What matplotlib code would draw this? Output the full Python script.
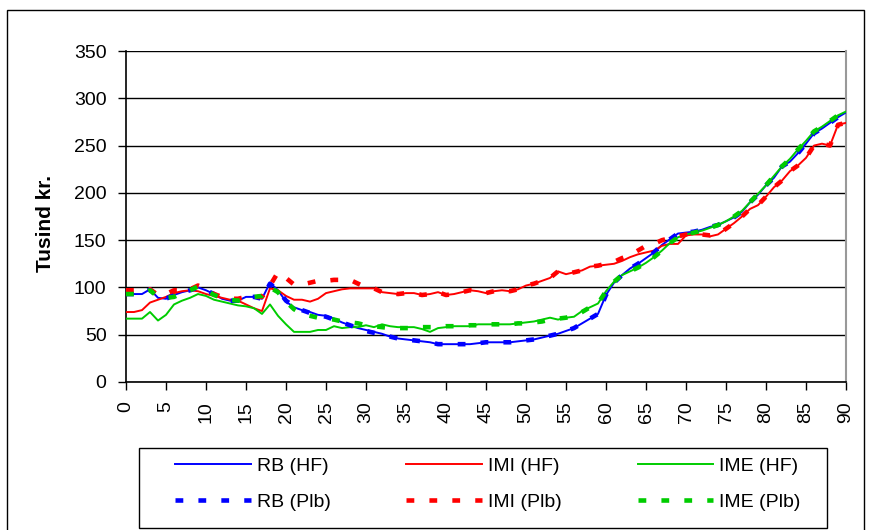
import numpy as np
import matplotlib
matplotlib.use("Agg")
import matplotlib.pyplot as plt
from matplotlib.patches import Rectangle

plt.rcParams['font.family'] = ['Liberation Sans', 'DejaVu Sans']

# -- data (age 0..90, tusind kr.)
ages = list(range(0, 91))

rb_hf = [93, 93, 93, 98, 89, 88, 92, 95, 97, 100,
         97, 93, 88, 86, 86, 90, 90, 88, 105, 97,
         85, 79, 76, 74, 71, 70, 67, 63, 60, 57,
         55, 53, 51, 48, 46, 45, 44, 43, 42, 40,
         40, 40, 40, 40, 41, 42, 42, 42, 42, 43,
         44, 45, 47, 49, 51, 54, 57, 62, 67, 72,
         92, 105, 113, 120, 125, 131, 137, 145, 151, 157,
         158, 159, 161, 164, 166, 170, 174, 180, 190, 198,
         208, 216, 228, 233, 242, 252, 263, 268, 274, 280,
         285]

imi_hf = [74, 74, 76, 84, 87, 90, 94, 96, 97, 96,
          93, 91, 89, 87, 86, 82, 78, 75, 99, 97,
          91, 87, 87, 85, 88, 94, 96, 98, 99, 99,
          99, 99, 95, 94, 93, 94, 94, 92, 93, 95,
          92, 93, 95, 97, 96, 94, 96, 97, 96, 98,
          102, 104, 107, 110, 117, 114, 116, 118, 122, 123,
          124, 125, 128, 132, 135, 137, 139, 144, 146, 146,
          155, 156, 156, 154, 156, 162, 168, 175, 183, 187,
          196, 206, 213, 223, 229, 237, 250, 252, 250, 272,
          274]

ime_hf = [67, 67, 67, 74, 65, 71, 82, 86, 89, 93,
          91, 87, 85, 83, 81, 80, 78, 72, 82, 70,
          61, 53, 53, 53, 55, 55, 59, 57, 58, 58,
          60, 58, 61, 59, 58, 58, 58, 56, 53, 57,
          58, 59, 59, 59, 61, 61, 61, 61, 61, 62,
          63, 64, 66, 68, 66, 68, 69, 75, 79, 83,
          96, 106, 113, 117, 121, 126, 132, 139, 147, 153,
          156, 158, 160, 163, 166, 170, 175, 181, 190, 199,
          208, 218, 228, 236, 246, 255, 265, 270, 276, 282,
          286]

rb_plb = [93, 93, 93, 98, 89, 88, 92, 95, 97, 100,
          97, 93, 88, 86, 86, 90, 90, 88, 104, 97,
          86, 80, 76, 73, 71, 69, 66, 63, 60, 57,
          54, 52, 50, 48, 46, 45, 44, 43, 42, 40,
          40, 40, 40, 40, 41, 42, 42, 42, 42, 43,
          44, 45, 47, 49, 51, 54, 57, 62, 67, 72,
          92, 105, 113, 120, 125, 131, 137, 145, 151, 157,
          158, 159, 161, 164, 166, 170, 174, 180, 190, 198,
          208, 216, 228, 233, 242, 252, 263, 268, 274, 280,
          285]

imi_plb = [97, 97, 97, 98, 92, 93, 97, 97, 98, 102,
           98, 93, 90, 88, 88, 90, 90, 90, 102, 116,
           110, 103, 103, 105, 107, 107, 108, 108, 108, 104,
           100, 99, 95, 94, 93, 94, 94, 92, 93, 95,
           92, 93, 95, 97, 96, 94, 96, 97, 96, 98,
           102, 104, 107, 110, 117, 114, 116, 118, 122, 123,
           125, 127, 131, 134, 139, 144, 146, 150, 152, 154,
           156, 156, 156, 155, 156, 162, 168, 175, 183, 187,
           196, 206, 213, 223, 229, 237, 250, 252, 250, 272,
           274]

ime_plb = [93, 93, 93, 97, 90, 89, 90, 94, 97, 101,
           97, 92, 89, 87, 86, 88, 90, 91, 100, 95,
           85, 77, 72, 70, 68, 67, 66, 64, 63, 62,
           60, 59, 58, 57, 57, 57, 57, 58, 58, 58,
           59, 59, 59, 60, 60, 61, 61, 61, 61, 62,
           62, 63, 64, 66, 67, 68, 70, 74, 79, 83,
           96, 106, 113, 117, 121, 126, 132, 139, 147, 153,
           156, 158, 160, 163, 166, 170, 175, 181, 190, 199,
           208, 218, 228, 236, 246, 255, 265, 270, 276, 282,
           286]

labels = ['RB (HF)', 'IMI (HF)', 'IME (HF)', 'RB (Plb)', 'IMI (Plb)', 'IME (Plb)']
colors = ['#0000ff', '#ff0000', '#00cc00']

fig = plt.figure(figsize=(8.74, 5.30), dpi=100)
ax = fig.add_axes([126 / 874, 1 - 382 / 530, 720 / 874, 331 / 530])

lines = []
for ys, c, lab in zip([rb_hf, imi_hf, ime_hf], colors, labels[:3]):
    ln, = ax.plot(ages, ys, color=c, lw=1.4, label=lab, zorder=3)
    lines.append(ln)
dash = (0, (1.7, 3.3))
for ys, c, lab in zip([rb_plb, imi_plb, ime_plb], colors, labels[3:]):
    ln, = ax.plot(ages, ys, color=c, lw=3.3, ls=dash, label=lab,
                  dash_capstyle='butt', zorder=4)
    lines.append(ln)

ax.set_xlim(0, 90)
ax.set_ylim(0, 350)
ax.set_xticks(range(0, 91, 5))
ax.set_yticks(range(0, 351, 50))
ax.tick_params(axis='x', labelrotation=90, labelsize=14, length=6, width=1,
               direction='out', pad=8)
ax.tick_params(axis='y', labelsize=14, length=6, width=1, direction='out', pad=8)
ax.grid(axis='y', color='black', lw=1.0)
ax.set_axisbelow(True)
for s in ['left', 'bottom']:
    ax.spines[s].set_color('black')
    ax.spines[s].set_linewidth(1.2)
ax.spines['right'].set_color('#999999')
ax.spines['right'].set_linewidth(1.5)
ax.spines['top'].set_visible(False)

ax.set_ylabel('Tusind kr.', fontsize=15, fontweight='bold')
ax.yaxis.set_label_coords(-0.099, 0.48)

# legend: matplotlib fills column by column, so interleave HF / Plb
order = [0, 3, 1, 4, 2, 5]
leg = fig.legend([lines[i] for i in order], [labels[i] for i in order], ncol=3,
                 loc='upper left', bbox_to_anchor=(175 / 874, 1 - 457 / 530),
                 fontsize=14, handlelength=3.9, handletextpad=0.3,
                 columnspacing=3.9, frameon=False, borderpad=0, borderaxespad=0,
                 labelspacing=0.95)

# legend box and outer chart border
fig.patches.append(Rectangle((139 / 874, 2 / 530), 688 / 874, 80 / 530,
                             transform=fig.transFigure, fill=False,
                             edgecolor='black', lw=1.0))
fig.patches.append(Rectangle((7 / 874, -0.02), 857 / 874, 1 - 10 / 530 + 0.02,
                             transform=fig.transFigure, fill=False,
                             edgecolor='black', lw=1.0))

fig.savefig('out.png', dpi=100)
